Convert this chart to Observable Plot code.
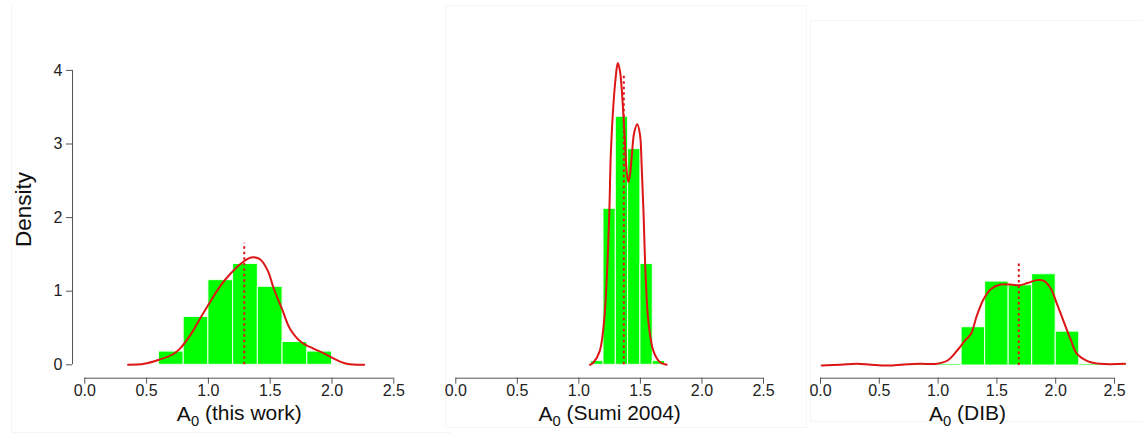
<!DOCTYPE html>
<html>
<head>
<meta charset="utf-8">
<script src="https://cdn.jsdelivr.net/npm/d3@7"></script>
<script src="https://cdn.jsdelivr.net/npm/@observablehq/plot@0.6"></script>
<style>
  html, body { margin: 0; padding: 0; background: #fff; }
  #wrap { position: relative; width: 1142px; height: 437px; overflow: hidden;
          font-family: "Liberation Sans", Arial, Helvetica, sans-serif; }
  .panel { position: absolute; top: 0; }
  .frame { position: absolute; box-sizing: border-box; border: 1px solid #f5f5f5; }
</style>
</head>
<body>
<div id="wrap"></div>
<script>
// ---------- data ----------
const xTicks = [0, 0.5, 1.0, 1.5, 2.0, 2.5];
const yTicks = [0, 1, 2, 3, 4];
const yLabel = "Density";
const xNames = ["this work", "Sumi 2004", "DIB"];

// panel 1: A0 (this work)
const bins1Start = [0.6, 0.8, 1.0, 1.2, 1.4, 1.6, 1.8, 2.0];
const bins1Width = 0.2;
const bins1Density = [0.18, 0.65, 1.15, 1.37, 1.06, 0.31, 0.18, 0.014];
const kde1X = [0.35, 0.48, 0.60, 0.71, 0.77, 0.86, 0.94, 1.02, 1.10, 1.18, 1.26, 1.33, 1.37, 1.42, 1.48, 1.53, 1.60, 1.66, 1.75, 1.85, 1.93, 2.02, 2.12, 2.26];
const kde1Y = [0, 0.013, 0.068, 0.14, 0.22, 0.42, 0.65, 0.87, 1.08, 1.24, 1.37, 1.45, 1.46, 1.43, 1.28, 1.03, 0.74, 0.49, 0.31, 0.22, 0.16, 0.08, 0.014, 0];
const mean1 = 1.29, mean1Top = 1.65;

// panel 2: A0 (Sumi 2004)
const bins2Start = [1.1, 1.2, 1.3, 1.4, 1.5, 1.6];
const bins2Width = 0.1;
const bins2Density = [0.05, 2.12, 3.37, 2.93, 1.37, 0.05];
const kde2X = [1.09, 1.12, 1.17, 1.205, 1.227, 1.248, 1.259, 1.28, 1.30, 1.316, 1.333, 1.348, 1.37, 1.389, 1.402, 1.415, 1.43, 1.45, 1.475, 1.497, 1.51, 1.524, 1.543, 1.564, 1.605, 1.659, 1.713];
const kde2Y = [0, 0.035, 0.19, 0.60, 1.19, 2.12, 2.84, 3.52, 3.92, 4.10, 4.00, 3.75, 3.16, 2.62, 2.48, 2.58, 2.84, 3.16, 3.27, 3.12, 2.71, 2.12, 1.19, 0.60, 0.19, 0.035, 0];
const mean2 = 1.365, mean2Top = 3.93;

// panel 3: A0 (DIB)
const bins3Start = [0.8, 1.0, 1.2, 1.4, 1.6, 1.8, 2.0, 2.2, 2.4];
const bins3Width = 0.2;
const bins3Density = [0.02, 0.02, 0.52, 1.14, 1.09, 1.24, 0.46, 0.02, 0.02];
const kde3X = [0.01, 0.17, 0.31, 0.43, 0.57, 0.71, 0.85, 0.99, 1.08, 1.16, 1.23, 1.28, 1.33, 1.39, 1.45, 1.53, 1.62, 1.69, 1.76, 1.84, 1.90, 1.96, 2.01, 2.07, 2.13, 2.18, 2.27, 2.38, 2.59];
const kde3Y = [0, 0.01, 0.023, 0.01, 0, 0.014, 0.023, 0.023, 0.068, 0.2, 0.34, 0.43, 0.68, 0.91, 1.04, 1.10, 1.10, 1.09, 1.12, 1.16, 1.15, 1.04, 0.84, 0.59, 0.34, 0.16, 0.06, 0.023, 0.023];
const mean3 = 1.686, mean3Top = 1.38;

// ---------- style ----------
const GREEN = "#00ff00";
const RED = "#dd1515";
const AXIS = "#555";
const FONT = "'Liberation Sans', Arial, Helvetica, sans-serif";

function makePanel(p) {
  const axisPx = 377.7;           // frame bottom (x axis line)
  const insetL = 12.3;            // gap between y axis line and x=0
  const insetB = axisPx - p.y0px; // gap between x axis line and y=0
  const yTopPx = p.y0px - 73.6 * yTicks[yTicks.length - 1];
  const bins = p.starts.map((s, i) => ({x1: s, x2: s + p.binW, d: p.dens[i]}));
  const kde = p.kx.map((x, i) => ({x, y: p.ky[i]}));
  const title = "A0 (" + p.name + ")";
  const midX = (xTicks[0] + xTicks[xTicks.length - 1]) / 2;
  const midY = (yTicks[0] + yTicks[yTicks.length - 1]) / 2;
  const marks = [
    Plot.rectY(bins, {x1: "x1", x2: "x2", y: "d", fill: GREEN, stroke: "#f4fff4", strokeWidth: 1}),
    Plot.line(kde, {x: "x", y: "y", stroke: RED, strokeWidth: 2, curve: "catmull-rom"}),
    Plot.ruleX([p.mean], {x: d => d, y1: 0, y2: p.meanTop, stroke: RED, strokeWidth: 2, strokeDasharray: "2.5,3"}),
    Plot.ruleY([0], {y: d => d, x1: xTicks[0], x2: xTicks[xTicks.length - 1], dy: insetB, stroke: AXIS}),
    Plot.axisX({ticks: xTicks, tickFormat: () => "", tickSize: 6, label: null, stroke: AXIS}),
    Plot.text(xTicks, {x: d => d, text: d => d.toFixed(1), frameAnchor: "bottom", lineAnchor: "top", textAnchor: "middle", dy: 6, fontSize: 16, fill: "#222"}),
    Plot.text([title], {x: () => midX, frameAnchor: "bottom", lineAnchor: "middle", textAnchor: "middle", dy: 36.5, fontSize: 21, fill: "#111"})
  ];
  if (p.showY) {
    marks.push(
      Plot.axisY({ticks: yTicks, tickFormat: () => "", tickSize: 6, label: null, stroke: AXIS}),
      Plot.text(yTicks, {y: d => d, text: d => String(d), frameAnchor: "left", textAnchor: "end", lineAnchor: "middle", dx: -10, fontSize: 16, fill: "#222"}),
      Plot.ruleX([0], {x: d => d, y1: yTicks[0], y2: yTicks[yTicks.length - 1], dx: -insetL, stroke: AXIS}),
      Plot.text([yLabel], {y: () => midY, frameAnchor: "left", textAnchor: "middle", lineAnchor: "middle", rotate: -90, dx: -48.5, dy: -8, fontSize: 22.5, fill: "#111"})
    );
  }
  const svg = Plot.plot({
    width: p.width,
    height: 437,
    marginLeft: p.x0px - insetL,
    marginRight: p.width - p.x1px,
    marginTop: yTopPx,
    marginBottom: 437 - axisPx,
    x: {domain: [xTicks[0], xTicks[xTicks.length - 1]], insetLeft: insetL},
    y: {domain: [yTicks[0], yTicks[yTicks.length - 1]], insetBottom: insetB, axis: p.showY ? undefined : null},
    style: {fontFamily: FONT, fontSize: "16px", color: "#222", background: "transparent", overflow: "visible"},
    marks
  });
  // subscript 0 in "A0"
  d3.select(svg).selectAll("text").filter(function() { return this.textContent === title; })
    .each(function() {
      const t = d3.select(this);
      t.text(null);
      t.append("tspan").text("A");
      t.append("tspan").attr("font-size", "0.7em").attr("dy", "0.28em").text("0");
      t.append("tspan").attr("dy", "-0.28em").text(" (" + p.name + ")");
    });
  svg.classList.add("panel");
  svg.style.left = p.left + "px";
  return svg;
}

const wrap = document.getElementById("wrap");

// faint panel frames
[[11, 3, 440, 430, "0 0 1px 1px"], [445, 5, 362, 423, "1px"], [810, 20, 340, 402, "1px 0 1px 1px"]].forEach(([l, t, w, h, bw]) => {
  const f = document.createElement("div");
  f.className = "frame";
  Object.assign(f.style, {left: l + "px", top: t + "px", width: w + "px", height: h + "px", borderWidth: bw});
  wrap.appendChild(f);
});

wrap.appendChild(makePanel({left: 0, width: 420, x0px: 84.3, x1px: 393.3, y0px: 364.3, showY: true,
  starts: bins1Start, binW: bins1Width, dens: bins1Density, kx: kde1X, ky: kde1Y, mean: mean1, meanTop: mean1Top, name: xNames[0]}));
wrap.appendChild(makePanel({left: 420, width: 387, x0px: 35.3, x1px: 343, y0px: 364.3, showY: false,
  starts: bins2Start, binW: bins2Width, dens: bins2Density, kx: kde2X, ky: kde2Y, mean: mean2, meanTop: mean2Top, name: xNames[1]}));
wrap.appendChild(makePanel({left: 807, width: 335, x0px: 13, x1px: 307, y0px: 365, showY: false,
  starts: bins3Start, binW: bins3Width, dens: bins3Density, kx: kde3X, ky: kde3Y, mean: mean3, meanTop: mean3Top, name: xNames[2]}));
</script>
</body>
</html>
